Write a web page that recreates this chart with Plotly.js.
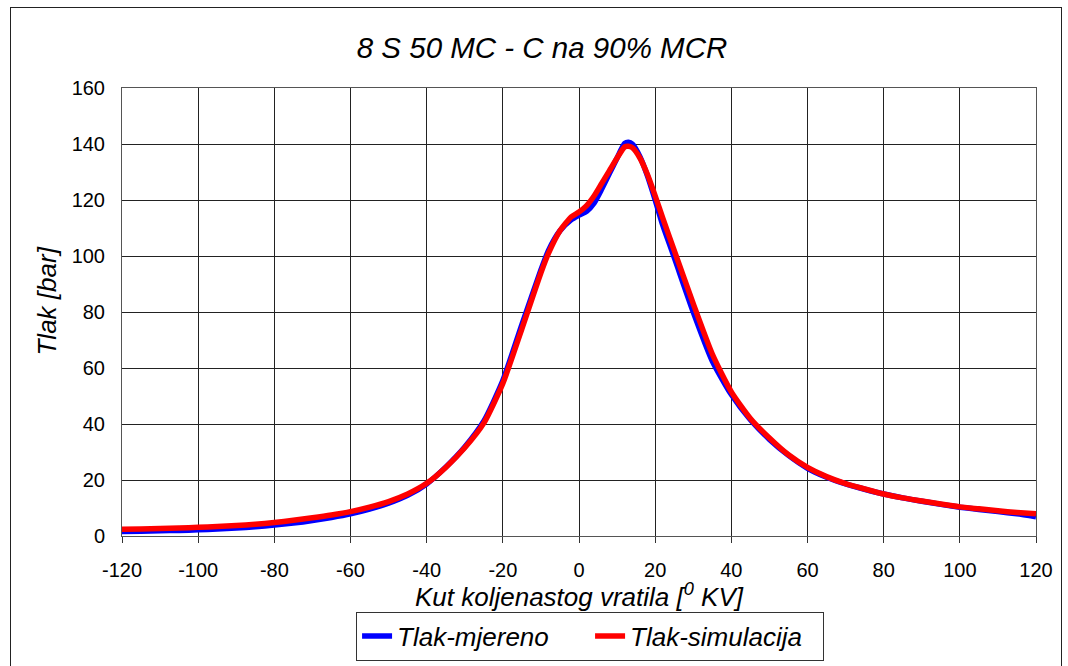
<!DOCTYPE html>
<html>
<head>
<meta charset="utf-8">
<script src="https://cdn.plot.ly/plotly-3.0.1.min.js"></script>
<style>
  html, body { margin: 0; padding: 0; background: #fff; }
  #wrap { position: relative; width: 1068px; height: 666px; overflow: hidden; }
  #chart { position: absolute; left: 0; top: 0; width: 1068px; height: 666px; }
  #frame { position: absolute; left: 10px; top: 7px; width: 1050px; height: 670px; border: 1.5px solid #222; pointer-events: none; }
</style>
</head>
<body>
<div id="wrap">
  <div id="chart"></div>
  <div id="frame"></div>
</div>
<script>
// Crank angle [deg] and pressures [bar]
const angle = [-120,-115,-110,-105,-100,-95,-90,-85,-80,-75,-70,-65,-60,-55,-50,-45,-40,-35,-30,-25,-20,-15,-10,-8,-5,-2,0,2,4,6,8,10,12,13,14,16,18,20,22,25,30,35,40,45,50,55,60,65,70,75,80,85,90,95,100,105,110,115,120];

const pMeasured = [1.6,1.7,1.85,2.0,2.2,2.5,2.85,3.3,3.9,4.6,5.5,6.6,7.9,9.6,11.7,14.5,18.6,24.6,31.8,41.0,55.5,75.5,95.0,102.0,109.0,113.0,114.6,116.0,119.0,124.0,129.5,135.0,140.2,140.6,140.0,135.5,128.5,120.0,111.0,99.5,80.0,62.5,50.5,41.5,34.5,28.8,24.2,21.0,18.6,16.7,15.0,13.6,12.4,11.3,10.3,9.5,8.7,7.9,6.9];

const pSimulated = [2.4,2.5,2.65,2.85,3.1,3.4,3.75,4.2,4.8,5.6,6.5,7.5,8.7,10.3,12.3,15.0,18.8,24.5,31.5,40.3,54.5,74.0,94.0,101.0,109.0,114.0,115.7,118.0,121.5,126.0,130.5,135.0,139.0,139.2,138.7,135.0,129.0,121.5,113.5,102.0,83.0,65.0,51.5,42.0,35.0,29.0,24.5,21.2,18.7,16.8,15.0,13.6,12.5,11.4,10.4,9.7,9.0,8.4,7.9];

const seriesNames = ['Tlak-mjereno', 'Tlak-simulacija'];
const xTicks = [-120,-100,-80,-60,-40,-20,0,20,40,60,80,100,120];
const yTicks = [0,20,40,60,80,100,120,140,160];

const FONT = 'Liberation Sans, Arial, sans-serif';

const traces = [
  { x: angle, y: pMeasured, name: seriesNames[0], type: 'scatter', mode: 'lines',
    line: { color: '#0000ff', width: 5.5, shape: 'spline', smoothing: 0.6 } },
  { x: angle, y: pSimulated, name: seriesNames[1], type: 'scatter', mode: 'lines',
    line: { color: '#ff0000', width: 5.5, shape: 'spline', smoothing: 0.6 } }
];

const layout = {
  width: 1068, height: 666,
  paper_bgcolor: 'rgba(0,0,0,0)', plot_bgcolor: '#ffffff',
  margin: { l: 122, r: 32, t: 88, b: 130 },
  font: { family: FONT, color: '#000', size: 20 },
  title: { text: '<i>8 S 50 MC - C na 90% MCR</i>', font: { family: FONT, size: 29.5, color: '#000' },
           x: 0.5075, xref: 'container', xanchor: 'center', y: 0.929, yref: 'container', yanchor: 'middle' },
  xaxis: {
    range: [-120, 120], tickvals: xTicks, ticktext: xTicks.map(String),
    showgrid: true, gridcolor: '#222', gridwidth: 1, automargin: false,
    zeroline: false, showline: true, linecolor: '#555', linewidth: 1, mirror: true,
    ticks: 'outside', ticklen: 6, tickcolor: '#333', tickfont: { size: 20, family: FONT },
    ticklabelstandoff: 10,
    title: { text: '<i>Kut koljenastog vratila [<sup>0</sup> KV]</i>', font: { size: 26, family: FONT }, standoff: 6 }
  },
  yaxis: {
    range: [0, 160], tickvals: yTicks, ticktext: yTicks.map(String),
    showgrid: true, gridcolor: '#222', gridwidth: 1, automargin: false,
    zeroline: false, showline: true, linecolor: '#555', linewidth: 1, mirror: true,
    ticks: '', tickfont: { size: 20, family: FONT }, ticklabelstandoff: 12
  },
  annotations: [
    { text: '<i>Tlak [bar]</i>', xref: 'paper', yref: 'paper', x: 0, y: 0.5234,
      xshift: -75, xanchor: 'center', yanchor: 'middle', textangle: -90, showarrow: false,
      font: { size: 26, family: FONT, color: '#000' } }
  ],
  legend: {
    orientation: 'h', x: 0.5525, xanchor: 'center', y: 0.045, yanchor: 'middle',
    xref: 'container', yref: 'container',
    bgcolor: '#fff', bordercolor: '#333', borderwidth: 1,
    font: { size: 26, family: FONT, style: 'italic' }, entrywidth: 188, entrywidthmode: 'pixels'
  },
  showlegend: true
};

Plotly.newPlot('chart', traces, layout, { displayModeBar: false, staticPlot: true });
</script>
</body>
</html>
